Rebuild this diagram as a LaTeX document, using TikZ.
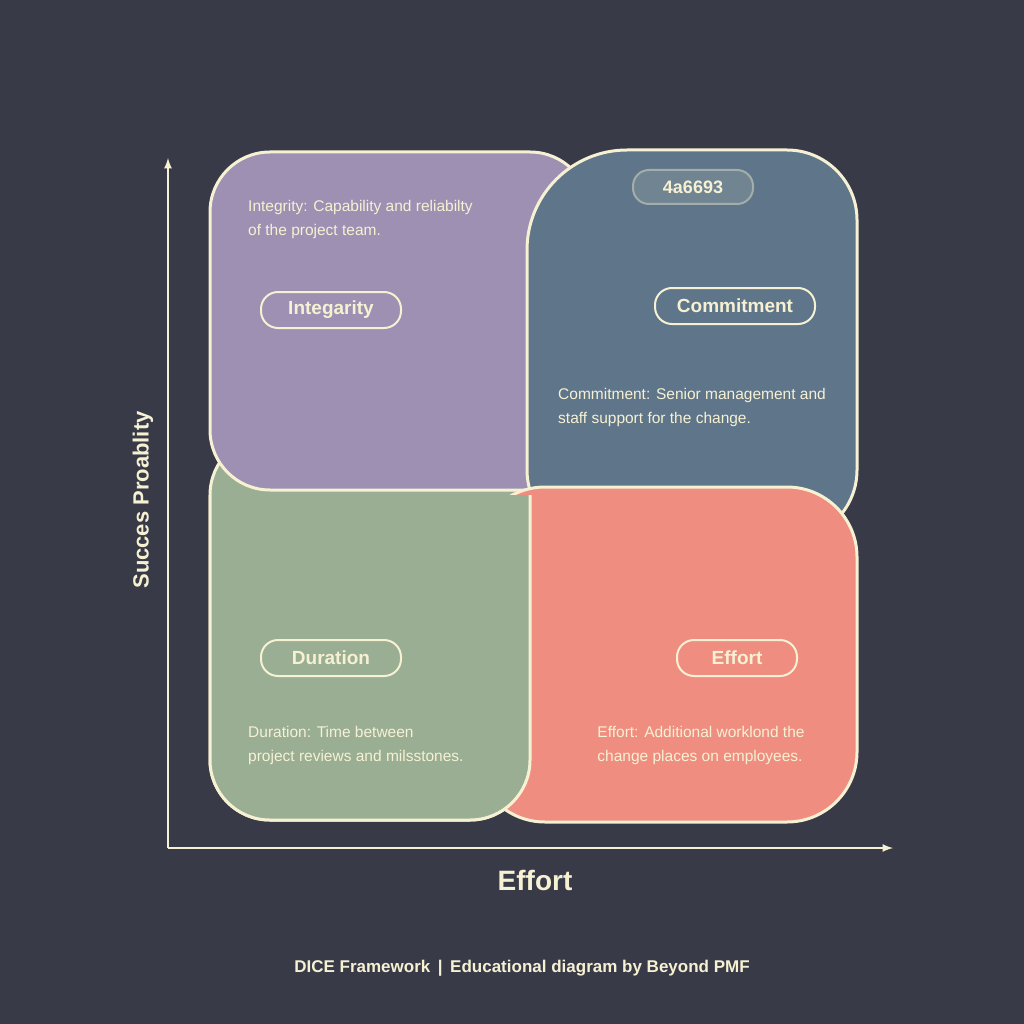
\documentclass[tikz,border=0pt]{standalone}
\usepackage{fontspec}
\setmainfont{Liberation Sans}
\usetikzlibrary{positioning}
\definecolor{bgclr}{HTML}{383A47}
\definecolor{lineclr}{HTML}{F6F1D3}
\definecolor{intclr}{HTML}{9D90B3}
\definecolor{comclr}{HTML}{5F7589}
\definecolor{durclr}{HTML}{9AAE94}
\definecolor{effclr}{HTML}{EF8E80}
\tikzset{ %
  ,>=latex
  ,quad/.style={draw=lineclr, line width=3pt}
  ,pill/.style={draw=lineclr, line width=2pt, rounded corners=17pt, minimum height=36pt, text=lineclr, font=\fontsize{19}{22}\selectfont\bfseries}
  ,desc/.style={text=lineclr, align=left, inner sep=0, font=\fontsize{15.5}{24}\selectfont}
}
\begin{document}
\begin{tikzpicture}[x=1pt, y=-1pt]
  \fill[bgclr] (0,0) rectangle (1024,1024);
  \useasboundingbox (0,0) rectangle (1024,1024);
  % quadrants
  \draw[quad, fill=durclr, rounded corners=60pt] (210,435) rectangle (530,820);
  \draw[quad, fill=intclr, rounded corners=60pt] (210,152) rectangle (590,490);
  \draw[quad, fill=comclr, rounded corners=100pt] (527,540) -- (527,150) [rounded corners=70pt] -- (857,150) -- (857,540) -- cycle;
  \draw[quad, fill=effclr, rounded corners=70pt] (475,822) -- (475,487) -- (857,487) -- (857,822) -- cycle;
  \begin{scope}
    \clip (200,495) rectangle (540,830);
    \draw[quad, fill=durclr, rounded corners=60pt] (210,435) rectangle (530,820);
  \end{scope}
  % axes
  \coordinate (O) at (168,848);
  \coordinate (ytop) at (168,158);
  \coordinate (xend) at (893,848);
  \draw[lineclr, line width=2.5pt, ->] (O) -- (ytop);
  \draw[lineclr, line width=2.5pt, ->] (O) -- (xend);
  \node[text=lineclr, font=\fontsize{28}{30}\selectfont\bfseries] (xlab) at (535,880) {Effort};
  \node[text=lineclr, rotate=90, font=\fontsize{22}{26}\selectfont\bfseries] (ylab) at (143,500) {Succes Proablity};
  % labels
  \node[pill, minimum width=140pt] (int) at (331,310) {Integarity};
  \node[pill, minimum width=160pt] (com) at (735,306) {Commitment};
  \node[pill, minimum width=140pt] (dur) at (331,658) {Duration};
  \node[pill, minimum width=120pt] (eff) at (737,658) {Effort};
  \node[draw=lineclr!45!comclr, fill=lineclr!12!comclr, line width=2pt, rounded corners=16pt, minimum width=120pt, minimum height=34pt, text=lineclr, font=\fontsize{18}{22}\selectfont\bfseries] (hex) at (693,187) {4a6693};
  % descriptions
  \node[desc, anchor=north west] (intd) at (248,200) {Integrity: Capability and reliabilty\\of the project team.};
  \node[desc, anchor=north west] (comd) at (558,388) {Commitment: Senior management and\\staff support for the change.};
  \node[desc, anchor=north west] (durd) at (248,726) {Duration: Time between\\project reviews and milsstones.};
  \node[desc, anchor=north] (effd) at (701,726) {Effort: Additional worklond the\\change places on employees.};
  % footer
  \node[text=lineclr, font=\fontsize{17}{20}\selectfont\bfseries] (foot) at (522,968) {DICE Framework \,|\, Educational diagram by Beyond PMF};
\end{tikzpicture}
\end{document}
